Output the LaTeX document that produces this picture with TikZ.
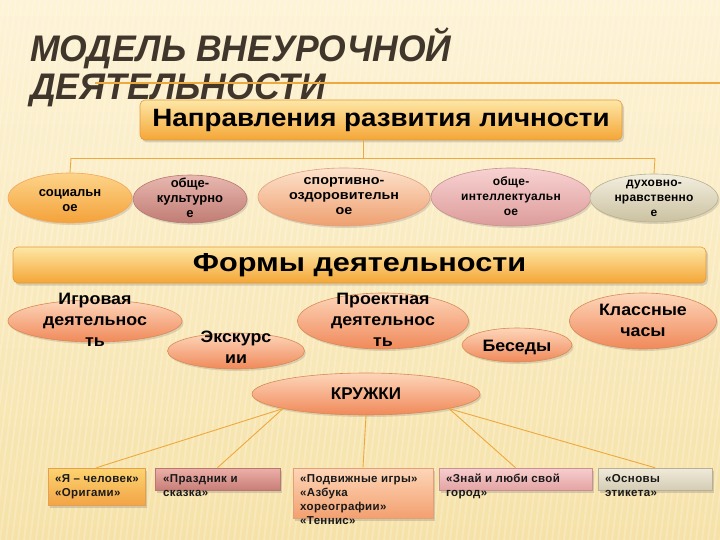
\documentclass[tikz,border=0pt]{standalone}
\usepackage{fontspec}
\setmainfont{Liberation Sans}
\usetikzlibrary{shapes.geometric,shadows,calc}
\definecolor{bgtop}{HTML}{FDF3D6}
\definecolor{bgbot}{HTML}{F6E2A8}
\definecolor{titlec}{HTML}{40362C}
\definecolor{linec}{HTML}{EDA93E}
\definecolor{bartop}{HTML}{FDE7A6}
\definecolor{barbot}{HTML}{F4A636}
\definecolor{barln}{HTML}{E39A3A}
\definecolor{pctop}{HTML}{FDD6BA}
\definecolor{pcbot}{HTML}{F0895A}
\definecolor{pcln}{HTML}{D98A52}
\tikzset{
  ellbase/.style={ellipse, inner sep=0pt, line width=0.6pt,
    drop shadow={opacity=0.25, shadow xshift=1.5pt, shadow yshift=-2pt}},
  barbox/.style={rounded corners=5pt, draw=barln, line width=0.6pt,
    top color=bartop, bottom color=barbot,
    drop shadow={opacity=0.3, shadow xshift=2pt, shadow yshift=-2.5pt}},
  smallbox/.style={line width=0.6pt,
    drop shadow={opacity=0.3, shadow xshift=2pt, shadow yshift=-2.5pt}},
  etext/.style={font=\fontsize{13}{15}\selectfont\bfseries, align=center, inner sep=0pt, text=black},
  ftext/.style={font=\fontsize{16.5}{21}\selectfont\bfseries\addfontfeature{FakeStretch=1.08}, align=center, inner sep=0pt, text=black},
  btext/.style={font=\fontsize{11.5}{14}\selectfont\bfseries\addfontfeature{LetterSpace=3}, align=left, inner sep=0pt, anchor=north west, text=black!90},
  conn/.style={draw=linec, line width=0.9pt}
}
\begin{document}
\begin{tikzpicture}[x=1pt,y=-1pt]
\useasboundingbox (0,0) rectangle (720,540);
% background
\fill[top color=bgtop, bottom color=bgbot] (0,0) rectangle (720,540);
\begin{scope}
\clip (0,0) rectangle (720,540);
\foreach \i in {-120,-114,...,720} {
  \draw[white, opacity=0.22, line width=1.8pt] (\i+70,0) -- (\i,540);
}
\end{scope}

% title
\node[anchor=base west, inner sep=0pt, text=titlec,
  font=\fontsize{37}{40}\selectfont\bfseries\itshape\addfontfeature{FakeStretch=0.96}] (t1) at (30,62) {МОДЕЛЬ ВНЕУРОЧНОЙ};
\node[anchor=base west, inner sep=0pt, text=titlec,
  font=\fontsize{37}{40}\selectfont\bfseries\itshape\addfontfeature{FakeStretch=0.96}] (t2) at (30,100) {ДЕЯТЕЛЬНОСТИ};
\coordinate (hl1) at (95,83);
\coordinate (hl2) at (720,83);
\draw[draw=linec, line width=1.2pt] (hl1) -- (hl2);

% top box
\node[barbox, minimum width=482pt, minimum height=40pt, inner sep=0pt,
  font=\fontsize{25}{28}\selectfont\bfseries\addfontfeature{FakeStretch=1.11}] (top) at (381,120) {Направления развития личности};

% bracket
\coordinate (bc) at (363,158);
\coordinate (bl) at (71,158);
\coordinate (br) at (655,158);
\draw[conn] (top.south -| bc) -- (bc);
\draw[conn] (bl) -- (br);

% row 1 ellipses
\node[ellbase, draw=orange!70!brown!70, top color={rgb,255:red,253;green,212;blue,138}, bottom color={rgb,255:red,244;green,162;blue,58},
  minimum width=124pt, minimum height=50pt] (e1) at (70,198) {};
\node[ellbase, draw={rgb,255:red,184;green,120;blue,112}, top color={rgb,255:red,232;green,184;blue,176}, bottom color={rgb,255:red,192;green,124;blue,116},
  minimum width=114pt, minimum height=48pt] (e2) at (190,199) {};
\node[ellbase, draw={rgb,255:red,224;green,160;blue,128}, top color={rgb,255:red,253;green,226;blue,204}, bottom color={rgb,255:red,238;green,160;blue,112},
  minimum width=172pt, minimum height=58pt] (e3) at (344,197) {};
\node[ellbase, draw={rgb,255:red,200;green,144;blue,144}, top color={rgb,255:red,248;green,210;blue,210}, bottom color={rgb,255:red,220;green,156;blue,154},
  minimum width=160pt, minimum height=58pt] (e4) at (511,197) {};
\node[ellbase, draw={rgb,255:red,184;green,176;blue,144}, top color={rgb,255:red,243;green,239;blue,224}, bottom color={rgb,255:red,203;green,193;blue,160},
  minimum width=128pt, minimum height=48pt] (e5) at (654,198) {};
\draw[conn] (bl) -- (e1.north);
\draw[conn] (br) -- (e5.north);

\node[etext] (e1t) at (70,201) {социальн\\ое};
\node[etext] (e2t) at (190,198) {обще-\\культурно\\е};
\node[etext, font=\fontsize{13}{15}\selectfont\bfseries\addfontfeature{FakeStretch=1.1}] (e3t) at (344,196) {спортивно-\\оздоровительн\\ое};
\node[etext, font=\fontsize{12}{15}\selectfont\bfseries\addfontfeature{LetterSpace=2}] (e4t) at (511,196) {обще-\\интеллектуальн\\ое};
\node[etext, font=\fontsize{12}{15}\selectfont\bfseries\addfontfeature{LetterSpace=2}] (e5t) at (654,198) {духовно-\\нравственно\\е};

% forms bar
\node[barbox, minimum width=693pt, minimum height=36pt, inner sep=0pt,
  font=\fontsize{26}{28}\selectfont\bfseries\addfontfeature{FakeStretch=1.18}] (forms) at (359.5,265) {Формы деятельности};

% row 2 ellipses
\tikzset{peach/.style={ellbase, draw=pcln, top color=pctop, bottom color=pcbot}}
\node[peach, minimum width=174pt, minimum height=42pt] (r1) at (95,321) {};
\node[peach, minimum width=137pt, minimum height=36pt] (r2) at (236,351) {};
\node[peach, minimum width=171pt, minimum height=56pt] (r3) at (383,321) {};
\node[peach, minimum width=110pt, minimum height=34pt] (r4) at (517,345) {};
\node[peach, minimum width=147pt, minimum height=56pt] (r5) at (643,321) {};
\node[ftext] (r1t) at (95,320) {Игровая\\деятельнос\\ть};
\node[ftext] (r2t) at (236,347) {Экскурс\\ии};
\node[ftext] (r3t) at (383,320) {Проектная\\деятельнос\\ть};
\node[ftext] (r4t) at (517,347) {Беседы};
\node[ftext] (r5t) at (643,320) {Классные\\часы};

% kruzhki
\node[peach, minimum width=228pt, minimum height=42pt] (kr) at (366,394) {};
\node[ftext, font=\fontsize{17}{20}\selectfont\bfseries] (krt) at (366,394) {КРУЖКИ};

% bottom boxes
\node[smallbox, draw={rgb,255:red,226;green,160;blue,80}, top color={rgb,255:red,252;green,212;blue,112}, bottom color={rgb,255:red,243;green,164;blue,70},
  minimum width=97pt, minimum height=37pt, inner sep=0pt] (b1) at (96.5,486.5) {};
\node[smallbox, draw={rgb,255:red,184;green,120;blue,112}, top color={rgb,255:red,236;green,176;blue,168}, bottom color={rgb,255:red,200;green,126;blue,120},
  minimum width=125pt, minimum height=22pt, inner sep=0pt] (b2) at (217.5,479) {};
\node[smallbox, draw={rgb,255:red,226;green,160;blue,120}, top color={rgb,255:red,253;green,214;blue,184}, bottom color={rgb,255:red,243;green,160;blue,112},
  minimum width=140pt, minimum height=50pt, inner sep=0pt] (b3) at (363,493) {};
\node[smallbox, draw={rgb,255:red,200;green,144;blue,144}, top color={rgb,255:red,247;green,206;blue,206}, bottom color={rgb,255:red,228;green,164;blue,164},
  minimum width=153pt, minimum height=22pt, inner sep=0pt] (b4) at (515.5,479) {};
\node[smallbox, draw={rgb,255:red,184;green,176;blue,150}, top color={rgb,255:red,240;green,234;blue,218}, bottom color={rgb,255:red,212;green,204;blue,180},
  minimum width=114pt, minimum height=22pt, inner sep=0pt] (b5) at (655,479) {};

\draw[conn] (kr.190) -- (b1.north);
\draw[conn] (kr.190) -- (b2.north);
\draw[conn] (kr.south) -- (b3.north);
\draw[conn] (kr.-10) -- (b4.north);
\draw[conn] (kr.-10) -- (b5.north);

\node[btext] (b1t) at (55,474) {«Я – человек»\\«Оригами»};
\node[btext] (b2t) at (163,474) {«Праздник и\\сказка»};
\node[btext] (b3t) at (300,474) {«Подвижные игры»\\«Азбука\\хореографии»\\«Теннис»};
\node[btext] (b4t) at (446,474) {«Знай и люби свой\\город»};
\node[btext] (b5t) at (605,474) {«Основы\\этикета»};
\end{tikzpicture}
\end{document}
